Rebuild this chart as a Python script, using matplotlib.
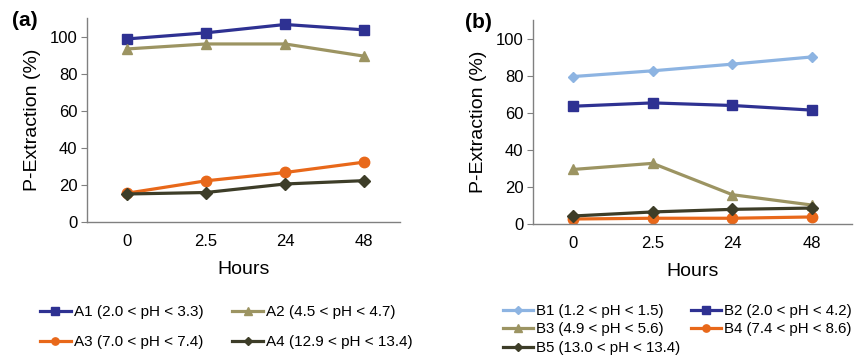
import matplotlib
matplotlib.use("Agg")
import matplotlib.pyplot as plt

plt.rcParams["font.family"] = ["Liberation Sans", "DejaVu Sans"]

# ------------------------------------------------------------------
# Datos
# ------------------------------------------------------------------
horas = ["0", "2.5", "24", "48"]

a_etiquetas = ["A1 (2.0 < pH < 3.3)", "A2 (4.5 < pH < 4.7)",
               "A3 (7.0 < pH < 7.4)", "A4 (12.9 < pH < 13.4)"]
a1 = [98.7, 102.0, 106.5, 103.6]
a2 = [93.3, 96.0, 96.0, 89.4]
a3 = [15.5, 22.2, 26.7, 32.3]
a4 = [15.1, 15.9, 20.5, 22.3]

b_etiquetas = ["B1 (1.2 < pH < 1.5)", "B2 (2.0 < pH < 4.2)",
               "B3 (4.9 < pH < 5.6)", "B4 (7.4 < pH < 8.6)",
               "B5 (13.0 < pH < 13.4)"]
b1 = [79.5, 82.6, 86.2, 90.1]
b2 = [63.5, 65.3, 63.9, 61.4]
b3 = [29.4, 32.7, 15.8, 10.2]
b4 = [2.7, 3.1, 3.1, 3.8]
b5 = [4.3, 6.5, 7.9, 8.6]

AZUL = "#2E3192"
OLIVA = "#9C9462"
NARANJA = "#E8681A"
OSCURO = "#3D3D28"
CELESTE = "#8DB4E2"

W, H = 863, 356
fig = plt.figure(figsize=(W / 100, H / 100), dpi=100)


def ejes(izq, der, arriba, abajo):
    ax = fig.add_axes([izq / W, 1 - abajo / H, (der - izq) / W, (abajo - arriba) / H])
    ax.set_ylim(0, 110)
    ax.set_yticks([0, 20, 40, 60, 80, 100])
    for lado in ["top", "right"]:
        ax.spines[lado].set_visible(False)
    for lado in ["left", "bottom"]:
        ax.spines[lado].set_color("#808080")
        ax.spines[lado].set_linewidth(1.0)
    ax.tick_params(axis="y", length=4, color="#808080", labelsize=12, pad=3)
    ax.tick_params(axis="x", length=0, labelsize=12, pad=9)
    ax.set_xlabel("Hours", fontsize=14, labelpad=8)
    ax.set_ylabel("P-Extraction (%)", fontsize=14, labelpad=6)
    return ax


estilo = dict(linewidth=2.3, markersize=7.5)

# --- (a) ---
ax_a = ejes(87, 400, 18, 222)
ax_a.plot(horas, a1, color=AZUL, marker="s", label=a_etiquetas[0], **estilo)
ax_a.plot(horas, a2, color=OLIVA, marker="^", label=a_etiquetas[1], **estilo)
ax_a.plot(horas, a3, color=NARANJA, marker="o", label=a_etiquetas[2], **estilo)
ax_a.plot(horas, a4, color=OSCURO, marker="D", label=a_etiquetas[3],
          linewidth=2.3, markersize=6.5)
ax_a.set_xlim(-0.5, 3.45)
fig.text(12 / W, 1 - 20 / H, "(a)", fontsize=15, fontweight="bold", va="center")

# --- (b) ---
ax_b = ejes(533, 852, 20, 224)
ax_b.plot(horas, b1, color=CELESTE, marker="D", label=b_etiquetas[0],
          linewidth=2.3, markersize=5.5)
ax_b.plot(horas, b2, color=AZUL, marker="s", label=b_etiquetas[1], **estilo)
ax_b.plot(horas, b3, color=OLIVA, marker="^", label=b_etiquetas[2], **estilo)
ax_b.plot(horas, b4, color=NARANJA, marker="o", label=b_etiquetas[3], **estilo)
ax_b.plot(horas, b5, color=OSCURO, marker="D", label=b_etiquetas[4],
          linewidth=2.3, markersize=6.5)
ax_b.set_xlim(-0.5, 3.5)
fig.text(465 / W, 1 - 22 / H, "(b)", fontsize=15, fontweight="bold", va="center")

# --- leyendas (orden por filas, matplotlib llena por columnas) ---
h, l = ax_a.get_legend_handles_labels()
orden = [0, 2, 1, 3]
fig.legend([h[i] for i in orden], [l[i] for i in orden], ncol=2, loc="upper left",
           bbox_to_anchor=(40 / W, 1 - 305 / H),
           frameon=False, fontsize=11, borderpad=0, borderaxespad=0,
           handlelength=2.0, handletextpad=0.2, columnspacing=1.9,
           labelspacing=1.05, markerscale=0.7)

h, l = ax_b.get_legend_handles_labels()
orden = [0, 2, 4, 1, 3]
fig.legend([h[i] for i in orden], [l[i] for i in orden], ncol=2, loc="upper left",
           bbox_to_anchor=(503 / W, 1 - 304 / H),
           frameon=False, fontsize=10.8, borderpad=0, borderaxespad=0,
           handlelength=2.0, handletextpad=0.2, columnspacing=0.7,
           labelspacing=0.3, markerscale=0.7)

fig.savefig("out.png", dpi=100)
